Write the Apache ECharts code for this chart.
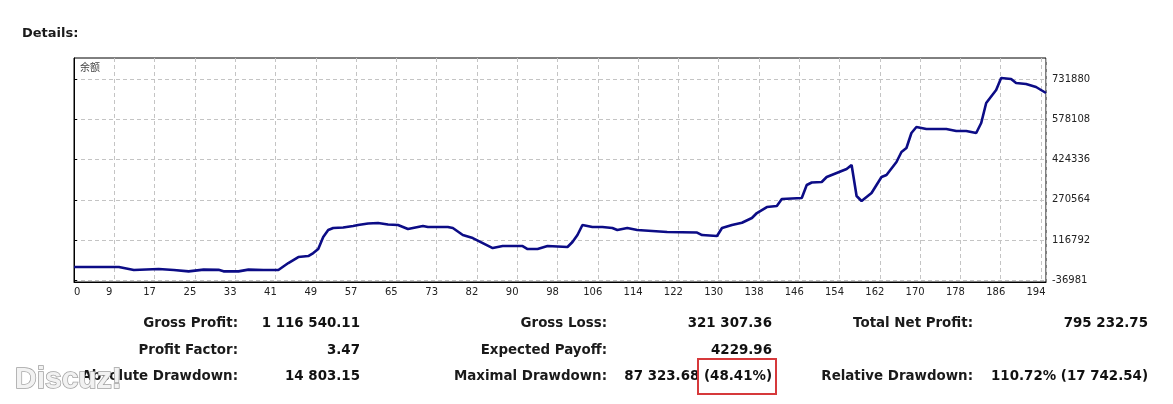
<!DOCTYPE html>
<html><head><meta charset="utf-8">
<script src="https://cdn.jsdelivr.net/npm/echarts@6/dist/echarts.min.js"></script>
<style>html,body{margin:0;padding:0;background:#fff}#c{width:1173px;height:404px}</style>
</head><body><div id="c"></div>
<script>
const SERIES_NAME = '余额';
const TRADE_IDX = [0,9,12,17,20,23,26,29,30,33,35,38,41,43,45,47,48,49,50,51,52,54,56,57,59,61,63,65,67,68,70,71,75,76,78,80,82,84,86,90,91,93,95,99,100,101,102,104,106,108,109,111,113,119,125,126,129,130,132,134,136,137,139,141,142,146,147,148,150,151,153,155,156,157,158,160,162,163,165,166,167,168,169,171,175,177,179,181,182,183,185,186,188,189,191,193,195];
const BALANCE = [13645,13645,2184,6004,2184,-2790,3700,2950,-2790,-2790,3700,2200,2200,28926,51849,55669,67130,82412,128257,154999,162640,164550,170281,174101,179832,181742,176011,174101,158819,162640,170281,166460,166460,162640,135897,124436,105334,86232,93872,93872,82412,82412,93872,90052,109154,135897,174101,166460,166460,162640,154999,162640,154999,147358,145448,135897,132076,162640,174101,182888,200836,219938,242861,246681,273423,277244,326909,336460,338370,357472,372754,388036,403318,284884,265782,296345,357472,365112,414778,452982,468263,525569,548491,540850,540850,533210,533210,525569,563774,640190,689856,735700,731880,716599,712778,701317,678395];
const X_LABELS = ['0','9','17','25','33','41','49','57','65','73','82','90','98','106','114','122','130','138','146','154','162','170','178','186','194'];
const Y_LABELS = [-36981,116792,270564,424336,578108,731880];

const HEADING = 'Details:';
const COL1_LABELS = ['Gross Profit:', 'Profit Factor:', 'Absolute Drawdown:'];
const COL1_VALUES = ['1 116 540.11', '3.47', '14 803.15'];
const COL2_LABELS = ['Gross Loss:', 'Expected Payoff:', 'Maximal Drawdown:'];
const COL2_VALUES = ['321 307.36', '4229.96', '87 323.68 (48.41%)'];
const COL3_LABELS = ['Total Net Profit:', '', 'Relative Drawdown:'];
const COL3_VALUES = ['795 232.75', '', '110.72% (17 742.54)'];
const WATERMARK = 'Discuz!';

const STEP = Number(X_LABELS[X_LABELS.length - 1]) / (X_LABELS.length - 1);
const chart = echarts.init(document.getElementById('c'), null, {renderer: 'canvas'});

const statFont = 'bold 13.4px "DejaVu Sans", sans-serif';
const rowsY = [324, 351, 377];
const labelRight = [238, 607, 973];
const valueRight = [360, 772, 1148];
const cols = [[COL1_LABELS, COL1_VALUES], [COL2_LABELS, COL2_VALUES], [COL3_LABELS, COL3_VALUES]];
const graphics = [];
graphics.push({type: 'text', style: {x: 22, y: 34, text: HEADING, font: 'bold 13px "DejaVu Sans", sans-serif', fill: '#1a1a1a', textVerticalAlign: 'middle'}});
graphics.push({type: 'text', style: {x: 80, y: 67, text: SERIES_NAME, font: '10px "Noto Sans CJK SC", sans-serif', fill: '#444', textVerticalAlign: 'middle'}});
cols.forEach((c, ci) => {
  c[0].forEach((t, ri) => {
    if (t) graphics.push({type: 'text', style: {x: labelRight[ci], y: rowsY[ri], text: t, font: statFont, fill: '#1a1a1a', textAlign: 'right', textVerticalAlign: 'middle'}});
  });
  c[1].forEach((t, ri) => {
    if (t) graphics.push({type: 'text', style: {x: valueRight[ci], y: rowsY[ri], text: t, font: statFont, fill: '#111', textAlign: 'right', textVerticalAlign: 'middle'}});
  });
});
graphics.push({type: 'rect', shape: {x: 698, y: 359, width: 78, height: 35}, style: {fill: 'none', stroke: '#d6393b', lineWidth: 2}});
graphics.push({type: 'text', z: 100, style: {x: 15, y: 380, text: WATERMARK, font: 'bold 30px "Liberation Sans", sans-serif', fill: '#f2f2f2', stroke: '#a0a0a0', lineWidth: 1.5, textVerticalAlign: 'middle'}});

chart.setOption({
  animation: false,
  backgroundColor: '#fff',
  grid: {left: 74, top: 58, width: 972, height: 224, show: true, borderColor: '#000', borderWidth: 1, backgroundColor: '#fff'},
  xAxis: {
    type: 'value', min: 0, max: 195, interval: STEP,
    axisLine: {show: true, onZero: false, lineStyle: {color: '#000', width: 1}},
    axisTick: {show: false},
    axisLabel: {
      fontSize: 10, fontFamily: 'DejaVu Sans', color: '#222', margin: 5,
      padding: [0, 10, 0, 0], alignMinLabel: 'left',
      formatter: v => { const k = v / STEP; return Math.abs(k - Math.round(k)) < 1e-6 && X_LABELS[Math.round(k)] !== undefined ? X_LABELS[Math.round(k)] : ''; }
    },
    splitLine: {show: true, lineStyle: {color: '#c4c4c4', type: [4, 3], width: 1}}
  },
  yAxis: {
    type: 'value', position: 'right', min: -43476, max: 812108,
    axisLine: {show: true, lineStyle: {color: '#000', width: 1}},
    axisTick: {show: true, length: 3, customValues: Y_LABELS, lineStyle: {color: '#000'}},
    axisLabel: {customValues: Y_LABELS, fontSize: 10, fontFamily: 'DejaVu Sans', color: '#222', margin: 6, formatter: v => String(v)},
    splitLine: {show: true, lineStyle: {color: '#c4c4c4', type: [4, 3], width: 1}}
  },
  series: [{
    name: SERIES_NAME, type: 'line', showSymbol: false, smooth: false,
    data: TRADE_IDX.map((x, i) => [x, BALANCE[i]]),
    lineStyle: {color: '#0c0c86', width: 2.6},
    itemStyle: {color: '#0c0c86'}
  }],
  graphic: graphics
});
</script></body></html>
